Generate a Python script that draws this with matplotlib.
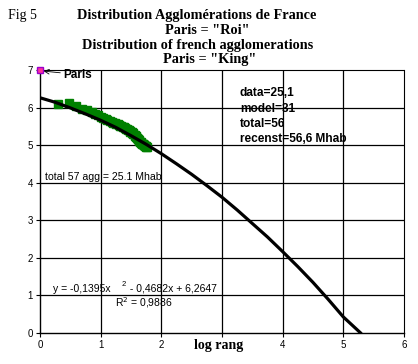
import matplotlib
matplotlib.use("Agg")
import matplotlib.pyplot as plt

# ---- data ----
paris_x = [0.0]
paris_y = [7.0]

data_x = [0.30, 0.48, 0.60, 0.70, 0.78, 0.85, 0.90, 0.95, 1.00, 1.04, 1.08, 1.11, 1.15,
          1.18, 1.20, 1.23, 1.26, 1.28, 1.30, 1.32, 1.34, 1.36, 1.38, 1.40, 1.41, 1.43,
          1.45, 1.46, 1.48, 1.49, 1.51, 1.52, 1.53, 1.54, 1.56, 1.57, 1.58, 1.59, 1.60,
          1.61, 1.62, 1.63, 1.64, 1.65, 1.66, 1.67, 1.68, 1.69, 1.70, 1.71, 1.72, 1.72,
          1.73, 1.74, 1.75, 1.76]
data_y = [6.10, 6.12, 6.05, 5.96, 5.93, 5.87, 5.82, 5.80, 5.76, 5.73, 5.70, 5.67, 5.64,
          5.62, 5.60, 5.58, 5.56, 5.55, 5.53, 5.52, 5.50, 5.48, 5.47, 5.45, 5.44, 5.42,
          5.40, 5.39, 5.37, 5.36, 5.34, 5.32, 5.31, 5.29, 5.27, 5.25, 5.23, 5.21, 5.19,
          5.17, 5.15, 5.13, 5.11, 5.09, 5.07, 5.06, 5.04, 5.03, 5.02, 5.01, 5.00, 4.99,
          4.98, 4.97, 4.96, 4.95]

model_x = [0, 0.25, 0.5, 0.75, 1, 1.25, 1.5, 1.75, 2, 2.25, 2.5, 2.75, 3, 3.25, 3.5,
           3.75, 4, 4.25, 4.5, 4.75, 5, 5.28]
model_y = [6.26, 6.14, 5.99, 5.83, 5.66, 5.47, 5.25, 5.02, 4.77, 4.50, 4.22, 3.92, 3.61,
           3.27, 2.91, 2.55, 2.16, 1.76, 1.34, 0.89, 0.42, 0.0]

x_ticks = [0, 1, 2, 3, 4, 5, 6]
x_labels = ["0", "1", "2", "", "4", "5", "6"]   # "3" is hidden under the axis title
y_ticks = [0, 1, 2, 3, 4, 5, 6, 7]

W, H = 418, 364
fig = plt.figure(figsize=(W / 100, H / 100), dpi=100)
ax = fig.add_axes([40 / W, 1 - 332.7 / H, 364 / W, 262.7 / H])

serif = "Liberation Serif"
sans = "Liberation Sans"

ax.set_xlim(0, 6)
ax.set_ylim(0, 7)
ax.set_xticks(x_ticks)
ax.set_yticks(y_ticks)
ax.set_xticklabels(x_labels, fontsize=7, family=sans)
ax.set_yticklabels([str(t) for t in y_ticks], fontsize=7, family=sans)
ax.tick_params(direction="out", length=3, width=0.8, pad=2, colors="black")

# grid lines (solid black) at inner ticks
for xv in x_ticks[1:-1]:
    ax.axvline(xv, color="black", linewidth=0.9, zorder=1)
for yv in y_ticks[1:-1]:
    ax.axhline(yv, color="black", linewidth=0.9, zorder=1)

for s in ["top", "right"]:
    ax.spines[s].set_linestyle((0, (1, 1)))
    ax.spines[s].set_linewidth(0.8)
for s in ["left", "bottom"]:
    ax.spines[s].set_linewidth(1.0)

ax.plot(data_x, data_y, linestyle="none", marker="s", markersize=6,
        color="#008000", markeredgecolor="#008000", zorder=3)
ax.plot(model_x, model_y, color="black", linewidth=2.3, zorder=4,
        solid_joinstyle="miter")
ax.plot(paris_x, paris_y, linestyle="none", marker="s", markersize=5,
        markerfacecolor="#ff3399", markeredgecolor="#9900cc", clip_on=False, zorder=5)

ax.annotate("Paris", xy=(0.06, 6.97), xytext=(0.38, 6.88),
            fontsize=8.5, fontweight="bold", family=sans, va="center", ha="left",
            arrowprops=dict(arrowstyle="->", color="black", lw=0.6,
                            shrinkA=0, shrinkB=0))

# info texts
info = ["data=25,1", "model=31", "total=56", "recenst=56,6 Mhab"]
for i, t in enumerate(info):
    fig.text(240 / W, 1 - (93 + i * 15.5) / H, t, fontsize=8.6, fontweight="bold",
             family=sans, va="center", ha="left")

fig.text(45 / W, 1 - 177 / H, "total 57 agg = 25.1 Mhab", fontsize=7.6,
         family=sans, va="center", ha="left")
fig.text(53 / W, 1 - 288.5 / H, "y = -0,1395x", fontsize=7.5, family=sans,
         va="center", ha="left")
fig.text(122 / W, 1 - 284 / H, "2", fontsize=5.5, family=sans, va="center", ha="left")
fig.text(127 / W, 1 - 288.5 / H, " - 0,4682x + 6,2647", fontsize=7.5, family=sans,
         va="center", ha="left")
fig.text(115 / W, 1 - 302.5 / H, "R$^2$ = 0,9886", fontsize=7.5, family=sans,
         va="center", ha="left")

# titles
fig.text(8 / W, 1 - 15 / H, "Fig 5", fontsize=10, family=serif, va="center", ha="left")
titles = [("Distribution Agglomérations de France", 197, 15),
          ('Paris = "Roi"', 207, 30),
          ("Distribution of french agglomerations", 198, 45),
          ('Paris = "King"', 210, 60)]
for t, cx, cy in titles:
    fig.text(cx / W, 1 - cy / H, t, fontsize=10.3, fontweight="bold", family=serif,
             va="center", ha="center")

fig.text(219 / W, 1 - 345 / H, "log rang", fontsize=10, fontweight="bold", family=serif,
         va="center", ha="center")

fig.savefig("out.png", dpi=100)
